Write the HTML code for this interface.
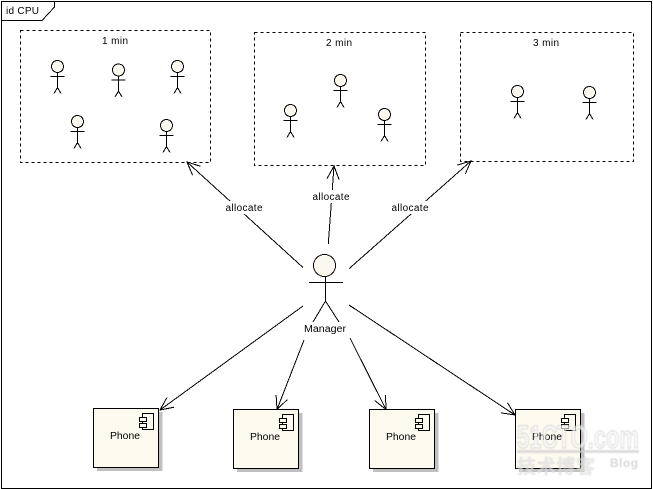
<!DOCTYPE html>
<html>
<head>
<meta charset="utf-8">
<style>
html,body{margin:0;padding:0;background:#fff;width:653px;height:489px;overflow:hidden}
svg{display:block}
svg *{shape-rendering:crispEdges}
text{font-family:"Liberation Sans","Noto Sans CJK SC",sans-serif;font-size:10px;fill:#000}
</style>
</head>
<body>
<svg width="653" height="489" viewBox="0 0 653 489" xmlns="http://www.w3.org/2000/svg">
<defs>
<marker id="a" markerUnits="userSpaceOnUse" markerWidth="18" markerHeight="16" refX="15" refY="8" orient="auto">
<path d="M2,2 L15,8 L2,14" fill="none" stroke="#000" stroke-width="1"/>
</marker>
<g id="s">
<circle cx="0" cy="0" r="6" fill="#fbf8ef" stroke="#000" stroke-width="1"/>
<path d="M0,6 V21 M-7,10 H7 M0,21 L-3.5,27 M0,21 L3.5,27" fill="none" stroke="#000" stroke-width="1"/>
</g>
<g id="p">
<rect x="4" y="4" width="65.5" height="59" fill="#c0c0c0"/>
<rect x="0.5" y="0.5" width="65" height="59" fill="#fdfaf0" stroke="#000" stroke-width="1"/>
<rect x="49.5" y="5.5" width="11" height="16" fill="#fdfaf0" stroke="#000"/>
<rect x="46.5" y="9.5" width="7" height="4" fill="#fdfaf0" stroke="#000"/>
<rect x="46.5" y="15.5" width="7" height="4" fill="#fdfaf0" stroke="#000"/>
<text x="32" y="31" text-anchor="middle" textLength="30" lengthAdjust="spacingAndGlyphs">Phone</text>
</g>
</defs>

<!-- frame -->
<rect x="1.5" y="1.5" width="650" height="487" fill="none" stroke="#000" stroke-width="1"/>
<path d="M1.5,20.5 H42 L54.5,7 V1.5" fill="none" stroke="#000" stroke-width="1"/>
<text x="6" y="14" textLength="33" lengthAdjust="spacing">id CPU</text>

<!-- boxes -->
<g fill="none" stroke="#000" stroke-width="1" stroke-dasharray="3 3">
<rect x="20.5" y="30.5" width="190" height="132"/>
<rect x="254.5" y="32.5" width="171" height="133"/>
<rect x="460.5" y="32.5" width="173" height="129"/>
</g>
<text x="115" y="44" text-anchor="middle" textLength="26">1 min</text>
<text x="339" y="46" text-anchor="middle" textLength="26">2 min</text>
<text x="546" y="46" text-anchor="middle" textLength="26">3 min</text>

<!-- small actors -->
<use href="#s" x="57.5" y="66.5"/>
<use href="#s" x="118.5" y="70"/>
<use href="#s" x="177.5" y="66.5"/>
<use href="#s" x="77.5" y="121.5"/>
<use href="#s" x="166.5" y="125.5"/>
<use href="#s" x="340.5" y="80.5"/>
<use href="#s" x="290.5" y="110.5"/>
<use href="#s" x="384.5" y="114.5"/>
<use href="#s" x="517.5" y="91.5"/>
<use href="#s" x="589.5" y="92.5"/>

<!-- connectors -->
<g fill="none" stroke="#000" stroke-width="1">
<path d="M303,267.5 L187,162" marker-end="url(#a)"/>
<path d="M328.3,244 L334,166" marker-end="url(#a)"/>
<path d="M349.3,268.5 L471,161" marker-end="url(#a)"/>
<path d="M303,306 L160,410" marker-end="url(#a)"/>
<path d="M304,340 L277,409.5" marker-end="url(#a)"/>
<path d="M350,338 L386,409.5" marker-end="url(#a)"/>
<path d="M349,305 L515,415" marker-end="url(#a)"/>
</g>
<g fill="#fff">
<rect x="224" y="201" width="40" height="13"/>
<rect x="311" y="190" width="40" height="13"/>
<rect x="390" y="201" width="40" height="13"/>
</g>
<text x="244" y="211" text-anchor="middle" textLength="37">allocate</text>
<text x="331" y="200" text-anchor="middle" textLength="37">allocate</text>
<text x="410" y="211" text-anchor="middle" textLength="37">allocate</text>

<!-- manager -->
<circle cx="324.5" cy="265.5" r="11" fill="#fbf8ef" stroke="#000" stroke-width="1"/>
<path d="M325.5,276 V301 M309,282.5 H343 M325.5,301 L313,322 M325.5,301 L339,322" fill="none" stroke="#000" stroke-width="1"/>
<rect x="303" y="323" width="45" height="12" fill="#fff"/>
<text x="325" y="332" text-anchor="middle" textLength="42" lengthAdjust="spacingAndGlyphs">Manager</text>

<!-- phones -->
<use href="#p" x="93" y="408"/>
<use href="#p" x="233" y="409"/>
<use href="#p" x="369" y="409"/>
<use href="#p" x="515" y="409"/>

<!-- watermark -->
<g opacity="0.7" style="filter:blur(.5px)">
<text x="517" y="448" textLength="122" lengthAdjust="spacingAndGlyphs" style="font-size:32px;font-weight:bold;fill:#f8f8f8;stroke:#cccccc;stroke-width:1">51CTO.com</text>
<rect x="517" y="450" width="122" height="3" fill="#d0d0d0"/>
<text x="517" y="473" textLength="78" style="font-size:19px;font-weight:bold;fill:#e0e0e0;stroke:#d8d8d8;stroke-width:.4">技术博客</text>
<text x="610" y="467" textLength="28" style="font-size:12px;font-weight:bold;fill:#c8c8c8">Blog</text>
</g>
</svg>
</body>
</html>
